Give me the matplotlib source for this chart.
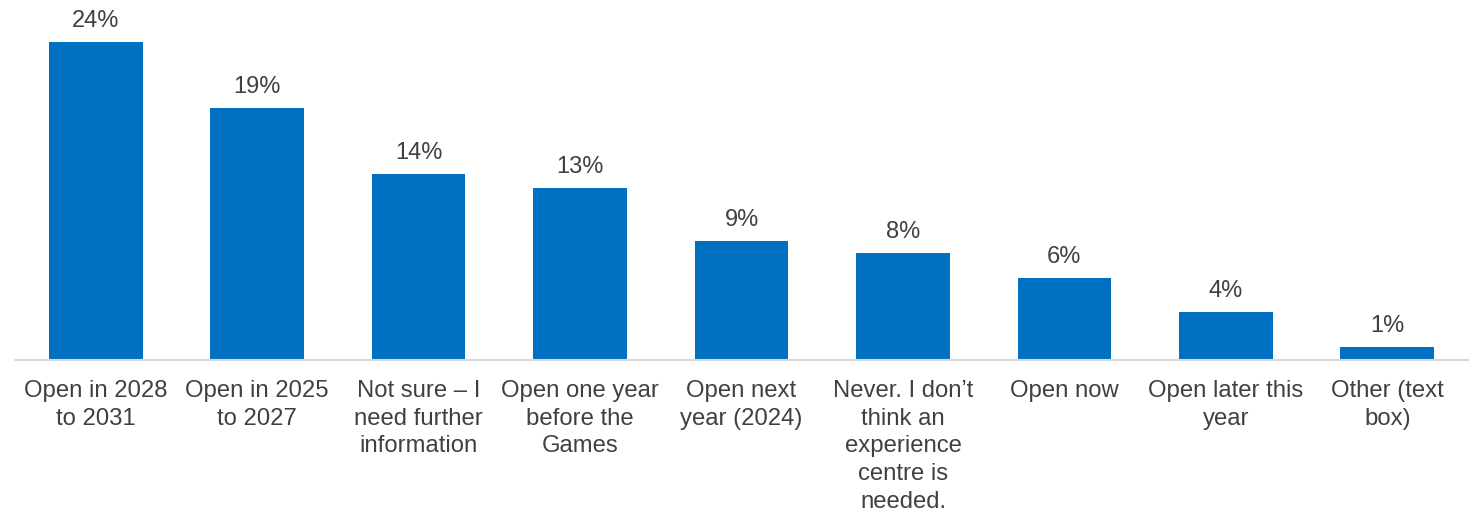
import matplotlib
matplotlib.use("Agg")
import matplotlib.pyplot as plt

categories = [
    "Open in 2028\nto 2031",
    "Open in 2025\nto 2027",
    "Not sure \u2013 I\nneed further\ninformation",
    "Open one year\nbefore the\nGames",
    "Open next\nyear (2024)",
    "Never. I don\u2019t\nthink an\nexperience\ncentre is\nneeded.",
    "Open now",
    "Open later this\nyear",
    "Other (text\nbox)",
]
values = [24.0, 19.0, 14.0, 13.0, 9.0, 8.1, 6.2, 3.6, 1.0]

plt.rcParams["font.family"] = ["Liberation Sans", "DejaVu Sans"]
text_color = "#404040"
bar_color = "#0070C0"

fig = plt.figure(figsize=(14.73, 5.12), dpi=100)
ax = fig.add_axes([15 / 1473, 1 - 360 / 512, 1453 / 1473, 350 / 512])

x = list(range(len(categories)))
ax.bar(x, values, width=0.58, color=bar_color, zorder=2)

for xi, v in zip(x, values):
    ax.text(xi, v + 0.75, f"{round(v)}%", ha="center", va="bottom",
            fontsize=17, color=text_color)

ax.set_xlim(-0.5, len(categories) - 0.5)
ax.set_ylim(0, 26.4)
ax.set_xticks(x)
ax.set_xticklabels(categories, fontsize=17.2, color=text_color, linespacing=1.33)
ax.tick_params(axis="x", length=0, pad=14.5)
ax.set_yticks([])

for side in ["top", "right", "left"]:
    ax.spines[side].set_visible(False)
ax.spines["bottom"].set_color("#D9D9D9")
ax.spines["bottom"].set_linewidth(1.5)

fig.savefig("out.png", dpi=100)
